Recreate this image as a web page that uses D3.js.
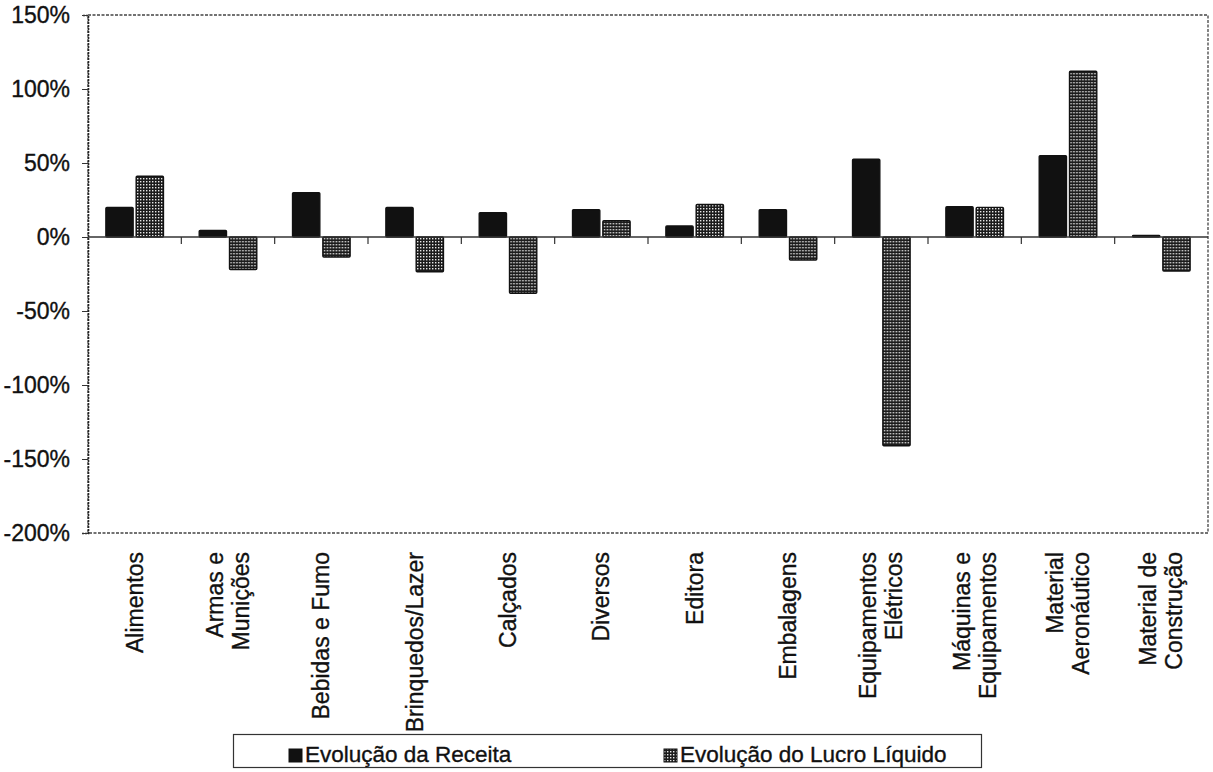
<!DOCTYPE html>
<html>
<head>
<meta charset="utf-8">
<script src="https://cdn.jsdelivr.net/npm/d3@7"></script>
<style>
  html, body { margin: 0; padding: 0; background: #fff; }
  svg { display: block; font-family: "Liberation Sans", Arial, Helvetica, sans-serif; }
</style>
</head>
<body>
<svg id="chart" width="1213" height="772"></svg>
<script>
// Sectors (line breaks marked with "|")
const categories = [
  "Alimentos", "Armas e|Munições", "Bebidas e Fumo", "Brinquedos/Lazer",
  "Calçados", "Diversos", "Editora", "Embalagens",
  "Equipamentos|Elétricos", "Máquinas e|Equipamentos", "Material|Aeronáutico", "Material de|Construção"
];
// Revenue growth (%)
const receita = [20, 4.5, 30, 20, 16.5, 18.5, 7.5, 18.5, 52.5, 20.5, 55, 1];
// Net profit growth (%)
const lucro = [41, -22, -13.5, -23.5, -38, 11, 22, -15.5, -141, 20, 112, -23];
// Axis ticks
const yTicks = [-200, -150, -100, -50, 0, 50, 100, 150];
const seriesNames = ["Evolução da Receita", "Evolução do Lucro Líquido"];

const svg = d3.select("#chart");
const plot = { left: 88, right: 1208, top: 15, bottom: 533 };
const textStyle = sel => sel.attr("fill", "#111").attr("stroke", "#111").attr("stroke-width", 0.35);

// Dotted fill used for the profit series
const defs = svg.append("defs");
const pat = defs.append("pattern")
  .attr("id", "dots").attr("patternUnits", "userSpaceOnUse")
  .attr("width", 3).attr("height", 3);
pat.append("rect").attr("width", 3).attr("height", 3).attr("fill", "#1c1c1c");
pat.append("rect").attr("x", 1).attr("y", 1).attr("width", 1.4).attr("height", 1.4).attr("fill", "#e8e8e8");

const fills = ["#111", "url(#dots)"];

const x0 = d3.scaleBand().domain(categories).range([plot.left, plot.right]).paddingInner(0).paddingOuter(0);
const x1 = d3.scaleBand().domain([0, 1]).range([0, x0.bandwidth()]).paddingInner(0.1).paddingOuter(0.59);
const y = d3.scaleLinear().domain([-200, 150]).range([plot.bottom, plot.top]);

// Plot frame (dotted)
svg.append("rect")
  .attr("x", plot.left).attr("y", plot.top)
  .attr("width", plot.right - plot.left).attr("height", plot.bottom - plot.top)
  .attr("fill", "none").attr("stroke", "#444").attr("stroke-width", 1.3)
  .attr("stroke-dasharray", "3,1.5");

// Y axis
const yAxis = svg.append("g")
  .attr("transform", `translate(${plot.left},0)`)
  .call(d3.axisLeft(y).tickValues(yTicks).tickFormat(d => d + "%").tickSize(6).tickPadding(12));
yAxis.select(".domain").attr("stroke", "#222").attr("stroke-width", 1.6).attr("stroke-dasharray", "2,1");
yAxis.selectAll(".tick line").attr("stroke", "#333");
yAxis.selectAll(".tick text")
  .attr("font-size", 23)
  .attr("font-family", "'Liberation Sans', Arial, sans-serif")
  .call(textStyle);

// Bars
const groups = svg.append("g").selectAll("g")
  .data(categories.map((c, i) => ({ c, vals: [receita[i], lucro[i]] })))
  .join("g")
  .attr("transform", d => `translate(${x0(d.c)},0)`);

groups.selectAll("rect")
  .data(d => d.vals.map((v, k) => ({ v, k })))
  .join("rect")
  .attr("x", d => x1(d.k))
  .attr("width", x1.bandwidth())
  .attr("y", d => y(Math.max(0, d.v)))
  .attr("height", d => Math.abs(y(d.v) - y(0)))
  .attr("rx", 1)
  .attr("fill", d => fills[d.k])
  .attr("stroke", "#111")
  .attr("stroke-width", 1.4);

// Zero line with category separator ticks
svg.append("line")
  .attr("x1", plot.left).attr("x2", plot.right)
  .attr("y1", y(0)).attr("y2", y(0))
  .attr("stroke", "#333").attr("stroke-width", 1.3);
svg.append("g").selectAll("line")
  .data(categories.slice(1))
  .join("line")
  .attr("x1", d => x0(d)).attr("x2", d => x0(d))
  .attr("y1", y(0)).attr("y2", y(0) + 7)
  .attr("stroke", "#333").attr("stroke-width", 1.2);

// Category labels, rotated
const labels = svg.append("g").selectAll("text")
  .data(categories)
  .join("text")
  .attr("transform", d => `translate(${x0(d) + x0.bandwidth() / 2},552) rotate(-90)`)
  .attr("text-anchor", "end")
  .attr("font-size", 23)
  .call(textStyle);
labels.each(function (d) {
  const parts = d.split("|");
  const t = d3.select(this);
  const lh = 26;
  parts.forEach((p, i) => {
    const off = (i - (parts.length - 1) / 2) * lh + 8;
    t.append("tspan").attr("x", 0).attr("y", off).text(p);
  });
});

// Legend
const lg = svg.append("g");
lg.append("rect")
  .attr("x", 233.5).attr("y", 734.5).attr("width", 748).attr("height", 33)
  .attr("fill", "#fff").attr("stroke", "#333").attr("stroke-width", 1.2);
const legendX = [289, 664];
seriesNames.forEach((name, i) => {
  lg.append("rect")
    .attr("x", legendX[i]).attr("y", 749).attr("width", 13).attr("height", 13)
    .attr("fill", fills[i]).attr("stroke", "#111").attr("stroke-width", 1);
  lg.append("text")
    .attr("x", legendX[i] + 16).attr("y", 762)
    .attr("font-size", 22.5)
    .call(textStyle)
    .text(name);
});
</script>
</body>
</html>
